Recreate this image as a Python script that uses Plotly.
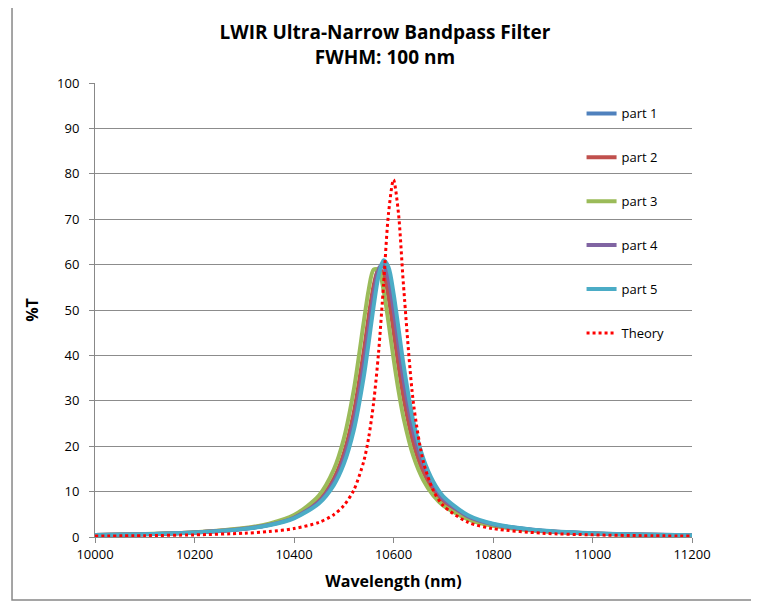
import plotly.graph_objects as go

wavelength = [10000, 10100, 10200, 10300, 10350, 10400, 10450, 10480, 10500, 10520,
              10540, 10550, 10560, 10570, 10580, 10590, 10600, 10610, 10620, 10640,
              10660, 10680, 10700, 10750, 10800, 10900, 11000, 11100, 11200]

part1 = [0.43, 0.63, 1.00, 1.83, 2.69, 4.32, 7.88, 12.40, 17.62, 26.02,
         38.97, 46.82, 54.22, 59.11, 59.60, 55.47, 48.39, 40.50, 33.22, 22.17,
         15.23, 10.90, 8.10, 4.41, 2.74, 1.34, 0.79, 0.52, 0.37]
part2 = [0.43, 0.63, 1.00, 1.85, 2.73, 4.40, 8.11, 12.86, 18.39, 27.28,
         40.73, 48.51, 55.31, 58.98, 58.02, 52.84, 45.41, 37.70, 30.83, 20.63,
         14.26, 10.26, 7.67, 4.21, 2.64, 1.30, 0.77, 0.51, 0.36]
part3 = [0.44, 0.65, 1.05, 1.97, 2.94, 4.82, 9.14, 14.84, 21.56, 32.28,
         47.21, 54.40, 58.89, 58.89, 54.40, 47.21, 39.40, 32.28, 26.33, 17.80,
         12.50, 9.14, 6.93, 3.90, 2.48, 1.25, 0.75, 0.50, 0.35]
part4 = [0.43, 0.63, 1.00, 1.82, 2.67, 4.25, 7.72, 12.08, 17.09, 25.16,
         37.72, 45.53, 53.22, 58.83, 60.35, 56.98, 50.27, 42.34, 34.82, 23.22,
         15.89, 11.33, 8.39, 4.53, 2.81, 1.37, 0.80, 0.53, 0.37]
part5 = [0.43, 0.62, 0.99, 1.79, 2.60, 4.12, 7.39, 11.44, 16.05, 23.45,
         35.16, 42.76, 50.77, 57.55, 60.95, 59.41, 53.75, 45.99, 38.09, 25.41,
         17.26, 12.20, 8.97, 4.78, 2.93, 1.41, 0.83, 0.54, 0.38]
theory = [0.21, 0.30, 0.47, 0.83, 1.19, 1.85, 3.22, 4.92, 6.90, 10.27,
          16.58, 21.85, 29.53, 40.64, 55.57, 71.28, 78.70, 71.28, 55.57, 29.53,
          16.58, 10.27, 6.90, 3.22, 1.85, 0.83, 0.47, 0.30, 0.21]

series_names = ["part 1", "part 2", "part 3", "part 4", "part 5", "Theory"]
series_values = [part1, part2, part3, part4, part5, theory]
series_colors = ["#4F81BD", "#C0504D", "#9BBB59", "#8064A2", "#4BACC6", "#FF0000"]

x_ticks = [10000, 10200, 10400, 10600, 10800, 11000, 11200]
y_ticks = [0, 10, 20, 30, 40, 50, 60, 70, 80, 90, 100]

FONT = "Open Sans"

fig = go.Figure()
for i, (name, vals, col) in enumerate(zip(series_names, series_values, series_colors)):
    is_theory = name == "Theory"
    fig.add_trace(go.Scatter(
        x=wavelength, y=vals, name=name, mode="lines",
        line=dict(color=col, width=3 if is_theory else 4,
                  dash="dot" if is_theory else "solid", shape="spline", smoothing=0.8),
        legendgroup=name,
    ))

# page body has an 8px margin, so the figure is sized/offset to compensate
fig.update_layout(
    width=751, height=597,
    margin=dict(l=87, r=67, t=75, b=68, autoexpand=False),
    paper_bgcolor="white", plot_bgcolor="white",
    font=dict(family=FONT, size=13, color="#000000"),
    title=dict(text="<b>LWIR Ultra-Narrow Bandpass Filter<br>FWHM: 100 nm</b>",
               x=0.502, xanchor="center", xref="container", y=0.948, yanchor="top",
               yref="container", automargin=False,
               font=dict(family=FONT, size=19, color="#000000")),
    showlegend=True,
    legend=dict(x=0.815, y=0.966, xanchor="left", yanchor="top",
                bgcolor="rgba(0,0,0,0)", tracegroupgap=24, itemwidth=30,
                font=dict(family=FONT, size=13, color="#000000")),
    xaxis=dict(range=[10000, 11200], tickvals=x_ticks, ticktext=[str(v) for v in x_ticks],
               showgrid=False, showline=True, linecolor="#888888", linewidth=1,
               ticks="outside", ticklen=5, tickcolor="#888888", zeroline=False, automargin=False,
               title=dict(text="<b>Wavelength (nm)</b>", font=dict(family=FONT, size=16), standoff=14)),
    yaxis=dict(range=[0, 100], tickvals=y_ticks, showgrid=True, gridcolor="#8c8c8c", gridwidth=1,
               showline=True, linecolor="#888888", linewidth=1, automargin=False,
               ticks="outside", ticklen=5, tickcolor="#888888", zeroline=False,
               ticklabelstandoff=7,
               title=dict(text="<b>%T</b>", font=dict(family=FONT, size=16), standoff=14)),
)

fig.add_shape(type="rect", xref="paper", yref="paper",
              x0=-0.139, x1=1.1005, y0=-0.1388, y1=1.1696,
              line=dict(color="#888888", width=1.5), fillcolor="rgba(0,0,0,0)", layer="below")

fig.write_html("out.html")
